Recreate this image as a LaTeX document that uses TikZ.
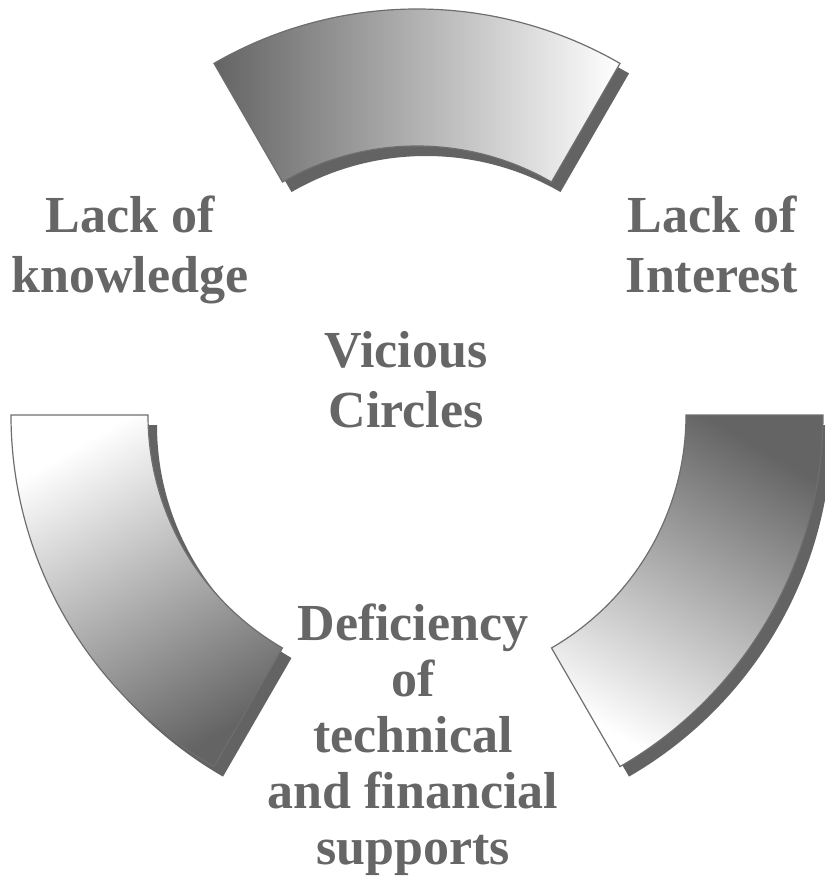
\documentclass[tikz,border=0pt]{standalone}
\usepackage{fontspec}
\setmainfont{Liberation Serif}
\usepackage{tikz}
\usetikzlibrary{positioning}

\definecolor{txtgray}{RGB}{102,102,102}
\definecolor{edgegray}{RGB}{110,110,110}
\definecolor{shadowgray}{RGB}{100,99,100}
\definecolor{darkfill}{RGB}{100,100,100}
\definecolor{lightfill}{RGB}{255,255,255}

\tikzset{
  segment/.style={draw=edgegray, line width=0.9pt, shading=axis},
  segshadow/.style={fill=shadowgray, draw=none},
  label/.style={align=center, text=txtgray, inner sep=0pt, anchor=north,
    font=\bfseries\fontsize{39}{45}\selectfont}
}

\begin{document}
\begin{tikzpicture}[x=0.75pt, y=0.75pt]
    \useasboundingbox (-417,-464) rectangle (408,415);

    %Shadows
    \begin{scope}[shift={(9,-10)}]
      \path[segshadow] (60:406) arc[start angle=60, end angle=120, radius=406]
        -- (120:269) arc[start angle=120, end angle=60, radius=269] -- cycle;
      \path[segshadow] (180:406) arc[start angle=180, end angle=240, radius=406]
        -- (240:269) arc[start angle=240, end angle=180, radius=269] -- cycle;
      \path[segshadow] (300:406) arc[start angle=300, end angle=360, radius=406]
        -- (0:269) arc[start angle=360, end angle=300, radius=269] -- cycle;
    \end{scope}

    %Segments
    \path[segment, top color=darkfill, bottom color=lightfill, shading angle=90]
      (60:406) arc[start angle=60, end angle=120, radius=406]
      -- (120:269) arc[start angle=120, end angle=60, radius=269] -- cycle;
    \path[segment, top color=darkfill, bottom color=lightfill, shading angle=210]
      (180:406) arc[start angle=180, end angle=240, radius=406]
      -- (240:269) arc[start angle=240, end angle=180, radius=269] -- cycle;
    \path[segment, top color=darkfill, bottom color=lightfill, shading angle=330]
      (300:406) arc[start angle=300, end angle=360, radius=406]
      -- (0:269) arc[start angle=360, end angle=300, radius=269] -- cycle;

    %Labels
    \begin{scope}[every node/.style={label}]
      \node (knowledge) at (-287,219) {Lack of\\knowledge};
      \node (interest) at (295,219) {Lack of\\Interest};
      \node (vicious) at (-11,84) {Vicious\\Circles};
      \node[font=\bfseries\fontsize{39}{42}\selectfont] (deficiency) at (-4,-189)
        {Deficiency\\of\\technical\\and financial\\supports};
    \end{scope}
  \end{tikzpicture}
\end{document}
